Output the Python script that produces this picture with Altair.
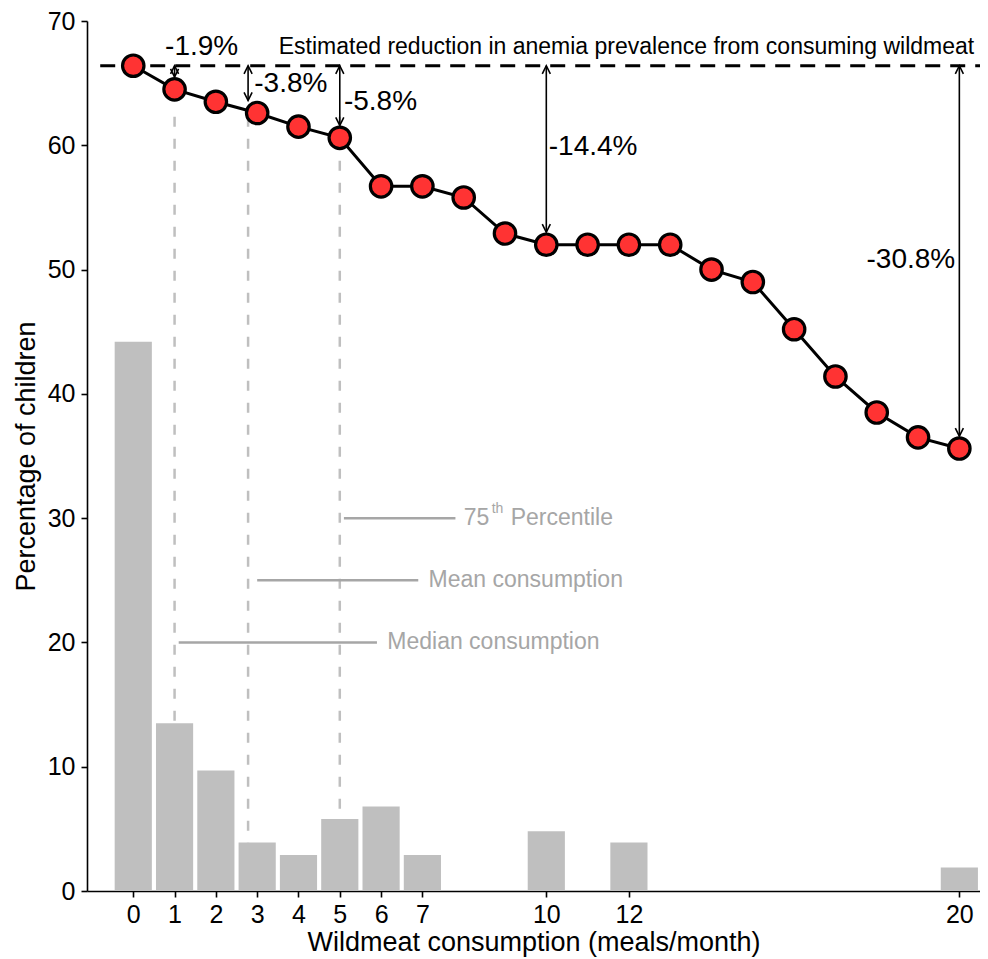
import altair as alt
import pandas as pd

# ---------------- data ----------------
consumption = list(range(21))
anemia_pct = [66.4, 64.5, 63.5, 62.6, 61.5, 60.6, 56.7, 56.7, 55.8, 52.9, 52.0,
              52.0, 52.0, 52.0, 50.0, 49.0, 45.2, 41.4, 38.5, 36.5, 35.6]

hist_x = [0, 1, 2, 3, 4, 5, 6, 7, 10, 12, 20]
hist_pct = [44.2, 13.5, 9.7, 3.9, 2.9, 5.8, 6.8, 2.9, 4.8, 3.9, 1.9]

x_ticks = [0, 1, 2, 3, 4, 5, 6, 7, 10, 12, 20]
y_ticks = [0, 10, 20, 30, 40, 50, 60, 70]

ref_names = ["Median consumption", "Mean consumption", "75th Percentile"]
ref_x = [1, 2.78, 5]

arrow_x = [1, 2.78, 5, 10, 20]
reduction = [1.9, 3.8, 5.8, 14.4, 30.8]
reduction_labels = ["-1.9%", "-3.8%", "-5.8%", "-14.4%", "-30.8%"]

title_text = "Estimated reduction in anemia prevalence from consuming wildmeat"
x_title = "Wildmeat consumption (meals/month)"
y_title = "Percentage of children"

baseline = anemia_pct[0]

# ---------------- annotation layout tables ----------------
lab_x = [0.77, 2.93, 5.1, 10.06, 19.9]
lab_y = [67.9, 64.9, 63.5, 59.9, 50.8]
lab_align = ["left", "left", "left", "left", "right"]

lead_y = [20, 25, 30]
lead_x1 = [1.1, 3.0, 5.1]
lead_x2 = [5.9, 6.9, 7.8]
lead_text_x = [6.15, 7.15, 8.0]

FONT = "Liberation Sans"
GRAY = "#a6a6a6"

df_line = pd.DataFrame({"x": consumption, "y": anemia_pct})
df_hist = pd.DataFrame({"x": hist_x, "y": hist_pct})
df_ref = pd.DataFrame({"x": ref_x, "top": [62.3] * 3, "bottom": [0] * 3})
df_arrow = pd.DataFrame({"x": arrow_x, "r": reduction, "label": reduction_labels,
                         "lx": lab_x, "ly": lab_y, "align": lab_align})
df_arrow["y1"] = baseline
df_arrow["y2"] = baseline - df_arrow["r"] + 1.0
df_lead = pd.DataFrame({"y": lead_y, "x1": lead_x1, "x2": lead_x2,
                        "tx": lead_text_x, "name": ref_names})
df_top = pd.DataFrame({"x1": [-0.8], "x2": [20.5], "y": [baseline],
                       "tx": [20.36], "ty": [67.9], "t": [title_text]})

xs = alt.Scale(domain=[-1.12, 20.5], nice=False, zero=False)
ys = alt.Scale(domain=[0, 70], nice=False, zero=False)

x_axis = alt.Axis(values=x_ticks, title=x_title, grid=False, labelFlush=False)
y_axis = alt.Axis(values=y_ticks, title=y_title, grid=False)


def X(field):
    return alt.X(field, type="quantitative", scale=xs, axis=x_axis)


def Y(field):
    return alt.Y(field, type="quantitative", scale=ys, axis=y_axis)


ref_lines = alt.Chart(df_ref).mark_rule(color="#bfbfbf", strokeWidth=2.5,
                                        strokeDash=[10, 12]).encode(
    x=X("x"), y=Y("top"), y2="bottom:Q",
)

bars = alt.Chart(df_hist).transform_calculate(
    x_lo="datum.x - 0.45", x_hi="datum.x + 0.45"
).mark_bar(color="#bfbfbf").encode(
    x=X("x_lo"), x2="x_hi:Q", y=Y("y"), y2=alt.datum(0),
)

leaders = alt.Chart(df_lead).mark_rule(color=GRAY, strokeWidth=2.5).encode(
    x=X("x1"), x2="x2:Q", y=Y("y"),
)
df_plain = df_lead[df_lead["name"] != "75th Percentile"]
df_pct = df_lead[df_lead["name"] == "75th Percentile"]
leader_text = alt.Chart(df_plain).mark_text(
    align="left", baseline="middle", font=FONT, fontSize=23, color=GRAY
).encode(x=X("tx"), y=Y("y"), text="name:N")
# "75" + superscript "th" + "Percentile"
pct75 = alt.Chart(df_pct).mark_text(
    align="left", baseline="middle", font=FONT, fontSize=23, color=GRAY
).encode(x=X("tx"), y=Y("y"), text=alt.value("75"))
pct_th = alt.Chart(df_pct).mark_text(
    align="left", baseline="middle", font=FONT, fontSize=14, color=GRAY, dx=28, dy=-9
).encode(x=X("tx"), y=Y("y"), text=alt.value("th"))
pct_word = alt.Chart(df_pct).mark_text(
    align="left", baseline="middle", font=FONT, fontSize=23, color=GRAY, dx=47
).encode(x=X("tx"), y=Y("y"), text=alt.value("Percentile"))

top_line = alt.Chart(df_top).mark_rule(color="black", strokeWidth=3,
                                       strokeDash=[15, 10]).encode(
    x=X("x1"), x2="x2:Q", y=Y("y"),
)
top_text = alt.Chart(df_top).mark_text(
    align="right", baseline="middle", font=FONT, fontSize=23, color="black"
).encode(x=X("tx"), y=Y("ty"), text="t:N")

arrow_shaft = alt.Chart(df_arrow).mark_rule(color="black", strokeWidth=1.6).encode(
    x=X("x"), y=Y("y1"), y2="y2:Q",
)
head_up = alt.Chart(df_arrow).mark_point(
    shape="M-0.5,1L0,0L0.5,1", size=260, filled=False, stroke="black",
    strokeWidth=1.6, opacity=1
).encode(x=X("x"), y=Y("y1"))
head_down = alt.Chart(df_arrow).mark_point(
    shape="M-0.5,-1L0,0L0.5,-1", size=260, filled=False, stroke="black",
    strokeWidth=1.6, opacity=1
).encode(x=X("x"), y=Y("y2"))

arrow_text_left = alt.Chart(df_arrow[df_arrow["align"] == "left"]).mark_text(
    align="left", baseline="middle", font=FONT, fontSize=28, color="black"
).encode(x=X("lx"), y=Y("ly"), text="label:N")
arrow_text_right = alt.Chart(df_arrow[df_arrow["align"] == "right"]).mark_text(
    align="right", baseline="middle", font=FONT, fontSize=28, color="black"
).encode(x=X("lx"), y=Y("ly"), text="label:N")

line = alt.Chart(df_line).mark_line(color="black", strokeWidth=3).encode(
    x=X("x"), y=Y("y"),
)
points = alt.Chart(df_line).mark_point(
    filled=True, fill="#ff3333", stroke="black", strokeWidth=3.2, size=460, opacity=1
).encode(x=X("x"), y=Y("y"))

chart = alt.layer(
    ref_lines, bars, leaders, leader_text, pct75, pct_th, pct_word, top_line, top_text,
    arrow_shaft, head_up, head_down, line, points, arrow_text_left, arrow_text_right,
).properties(
    width=893, height=870,
    autosize=alt.AutoSizeParams(type="none"),
    padding={"left": 79, "top": 13, "right": 0, "bottom": 67},
).configure_view(stroke=None).configure_axis(
    domainColor="black", domainWidth=1.6, tickColor="black", tickWidth=1.6,
    tickSize=6, labelColor="black", titleColor="black", labelFont=FONT,
    titleFont=FONT, labelFontSize=25, titleFontSize=27, titleFontWeight="normal",
).configure_axisX(labelPadding=5, titlePadding=2).configure_axisY(
    labelPadding=6, titlePadding=7)

chart.save("out.html", embed_options={"renderer": "svg", "actions": False})
